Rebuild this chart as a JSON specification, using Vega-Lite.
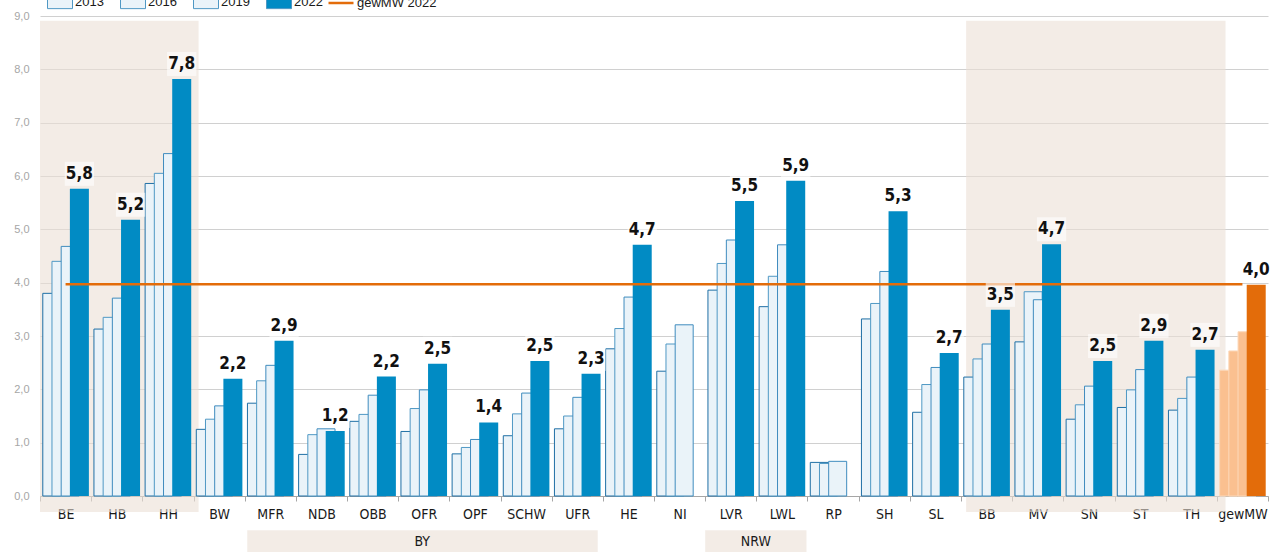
{
  "$schema": "https://vega.github.io/schema/vega-lite/v6.json",
  "width": 1228,
  "height": 480,
  "autosize": {"type": "none"},
  "padding": {"left": 40, "top": 16, "right": 10, "bottom": 56},
  "background": "#ffffff",
  "config": {
    "view": {"stroke": null},
    "font": "Liberation Sans",
    "locale": {"number": {"decimal": ",", "thousands": ".", "grouping": [3], "currency": ["", " €"]}},
    "axisY": {"grid": true, "gridColor": "#d0d0d0", "gridWidth": 1, "domain": false, "ticks": false, "tickSize": 0, "labelColor": "#a6a6a6", "labelFontSize": 11, "labelFont": "Liberation Sans", "labelPadding": 11, "title": null},
    "axisX": {"domainColor": "#a6a6a6", "tickColor": "#a6a6a6", "tickSize": 5, "tickBand": "extent", "labelColor": "#1a1a1a", "labelFontSize": 14, "labelFont": "Liberation Sans Narrow, DejaVu Sans Condensed, sans-serif", "labelPadding": 6, "labelAngle": 0, "zindex": 1, "title": null, "grid": false},
    "legend": {"labelFont": "Liberation Sans", "labelFontSize": 13, "labelColor": "#1a1a1a", "padding": 0, "labelOffset": 2, "columnPadding": 14, "symbolSize": 625}
  },
  "datasets": {
    "bars": [
      {"cat": "BE", "year": "2013", "v": 3.80}, {"cat": "BE", "year": "2016", "v": 4.40}, {"cat": "BE", "year": "2019", "v": 4.68}, {"cat": "BE", "year": "2022", "v": 5.76},
      {"cat": "HB", "year": "2013", "v": 3.13}, {"cat": "HB", "year": "2016", "v": 3.35}, {"cat": "HB", "year": "2019", "v": 3.71}, {"cat": "HB", "year": "2022", "v": 5.18},
      {"cat": "HH", "year": "2013", "v": 5.86}, {"cat": "HH", "year": "2016", "v": 6.05}, {"cat": "HH", "year": "2019", "v": 6.42}, {"cat": "HH", "year": "2022", "v": 7.82},
      {"cat": "BW", "year": "2013", "v": 1.25}, {"cat": "BW", "year": "2016", "v": 1.44}, {"cat": "BW", "year": "2019", "v": 1.69}, {"cat": "BW", "year": "2022", "v": 2.20},
      {"cat": "MFR", "year": "2013", "v": 1.74}, {"cat": "MFR", "year": "2016", "v": 2.16}, {"cat": "MFR", "year": "2019", "v": 2.45}, {"cat": "MFR", "year": "2022", "v": 2.91},
      {"cat": "NDB", "year": "2013", "v": 0.78}, {"cat": "NDB", "year": "2016", "v": 1.15}, {"cat": "NDB", "year": "2019", "v": 1.26}, {"cat": "NDB", "year": "2022", "v": 1.22},
      {"cat": "OBB", "year": "2013", "v": 1.40}, {"cat": "OBB", "year": "2016", "v": 1.53}, {"cat": "OBB", "year": "2019", "v": 1.89}, {"cat": "OBB", "year": "2022", "v": 2.24},
      {"cat": "OFR", "year": "2013", "v": 1.21}, {"cat": "OFR", "year": "2016", "v": 1.64}, {"cat": "OFR", "year": "2019", "v": 1.99}, {"cat": "OFR", "year": "2022", "v": 2.48},
      {"cat": "OPF", "year": "2013", "v": 0.79}, {"cat": "OPF", "year": "2016", "v": 0.91}, {"cat": "OPF", "year": "2019", "v": 1.06}, {"cat": "OPF", "year": "2022", "v": 1.38},
      {"cat": "SCHW", "year": "2013", "v": 1.13}, {"cat": "SCHW", "year": "2016", "v": 1.54}, {"cat": "SCHW", "year": "2019", "v": 1.93}, {"cat": "SCHW", "year": "2022", "v": 2.53},
      {"cat": "UFR", "year": "2013", "v": 1.26}, {"cat": "UFR", "year": "2016", "v": 1.50}, {"cat": "UFR", "year": "2019", "v": 1.85}, {"cat": "UFR", "year": "2022", "v": 2.29},
      {"cat": "HE", "year": "2013", "v": 2.76}, {"cat": "HE", "year": "2016", "v": 3.14}, {"cat": "HE", "year": "2019", "v": 3.73}, {"cat": "HE", "year": "2022", "v": 4.71},
      {"cat": "NI", "year": "2013", "v": 2.34}, {"cat": "NI", "year": "2016", "v": 2.85}, {"cat": "NI", "year": "2019", "v": 3.21}, {"cat": "NI", "year": "2022", "v": null},
      {"cat": "LVR", "year": "2013", "v": 3.86}, {"cat": "LVR", "year": "2016", "v": 4.36}, {"cat": "LVR", "year": "2019", "v": 4.80}, {"cat": "LVR", "year": "2022", "v": 5.53},
      {"cat": "LWL", "year": "2013", "v": 3.55}, {"cat": "LWL", "year": "2016", "v": 4.12}, {"cat": "LWL", "year": "2019", "v": 4.71}, {"cat": "LWL", "year": "2022", "v": 5.91},
      {"cat": "RP", "year": "2013", "v": 0.63}, {"cat": "RP", "year": "2016", "v": 0.61}, {"cat": "RP", "year": "2019", "v": 0.65}, {"cat": "RP", "year": "2022", "v": null},
      {"cat": "SH", "year": "2013", "v": 3.32}, {"cat": "SH", "year": "2016", "v": 3.61}, {"cat": "SH", "year": "2019", "v": 4.21}, {"cat": "SH", "year": "2022", "v": 5.34},
      {"cat": "SL", "year": "2013", "v": 1.57}, {"cat": "SL", "year": "2016", "v": 2.09}, {"cat": "SL", "year": "2019", "v": 2.41}, {"cat": "SL", "year": "2022", "v": 2.68},
      {"cat": "BB", "year": "2013", "v": 2.23}, {"cat": "BB", "year": "2016", "v": 2.57}, {"cat": "BB", "year": "2019", "v": 2.85}, {"cat": "BB", "year": "2022", "v": 3.49},
      {"cat": "MV", "year": "2013", "v": 2.89}, {"cat": "MV", "year": "2016", "v": 3.83}, {"cat": "MV", "year": "2019", "v": 3.68}, {"cat": "MV", "year": "2022", "v": 4.72},
      {"cat": "SN", "year": "2013", "v": 1.44}, {"cat": "SN", "year": "2016", "v": 1.71}, {"cat": "SN", "year": "2019", "v": 2.06}, {"cat": "SN", "year": "2022", "v": 2.53},
      {"cat": "ST", "year": "2013", "v": 1.66}, {"cat": "ST", "year": "2016", "v": 1.99}, {"cat": "ST", "year": "2019", "v": 2.37}, {"cat": "ST", "year": "2022", "v": 2.91},
      {"cat": "TH", "year": "2013", "v": 1.61}, {"cat": "TH", "year": "2016", "v": 1.83}, {"cat": "TH", "year": "2019", "v": 2.23}, {"cat": "TH", "year": "2022", "v": 2.74},
      {"cat": "gewMW", "year": "2013", "v": 2.36}, {"cat": "gewMW", "year": "2016", "v": 2.72}, {"cat": "gewMW", "year": "2019", "v": 3.08}, {"cat": "gewMW", "year": "2022", "v": 3.96}
    ],
    "shade": [{"from": 0, "to": 3.1}, {"from": 18.1, "to": 23.17}],
    "groups": [{"label": "BY", "from": 4.05, "to": 10.9, "mid": 7.47}, {"label": "NRW", "from": 13.0, "to": 14.98, "mid": 13.99}],
    "mw": [{"series": "gewMW 2022", "from": "BE", "to": "gewMW", "v": 3.97}]
  },
  "resolve": {"scale": {"x": "independent"}},
  "layer": [
    {
      "layer": [
        {
          "data": {"name": "shade"},
          "mark": {"type": "rect", "fill": "#ebdfd5", "opacity": 0.6},
          "encoding": {
            "x": {"field": "from", "type": "quantitative", "scale": {"domain": [0, 24], "nice": false, "zero": false}, "axis": null},
            "x2": {"field": "to"},
            "y": {"datum": 8.91, "type": "quantitative", "title": null, "scale": {"domain": [0, 9], "nice": false}, "axis": {"values": [0,1,2,3,4,5,6,7,8,9], "format": ".1f"}},
            "y2": {"datum": -0.3}
          }
        },
        {
          "data": {"name": "groups"},
          "mark": {"type": "rect", "fill": "#ebdfd5", "opacity": 0.6},
          "encoding": {
            "x": {"field": "from", "type": "quantitative", "scale": {"domain": [0, 24], "nice": false, "zero": false}, "axis": null},
            "x2": {"field": "to"},
            "y": {"datum": -0.64, "type": "quantitative", "title": null, "scale": {"domain": [0, 9], "nice": false}, "axis": {"values": [0,1,2,3,4,5,6,7,8,9], "format": ".1f"}},
            "y2": {"datum": -1.2}
          }
        },
        {
          "data": {"name": "groups"},
          "mark": {"type": "text", "font": "Liberation Sans Narrow, DejaVu Sans Condensed, sans-serif", "fontSize": 14, "color": "#1a1a1a", "baseline": "middle"},
          "encoding": {
            "x": {"field": "mid", "type": "quantitative", "scale": {"domain": [0, 24], "nice": false, "zero": false}, "axis": null},
            "y": {"datum": -0.86, "type": "quantitative", "title": null, "scale": {"domain": [0, 9], "nice": false}, "axis": {"values": [0,1,2,3,4,5,6,7,8,9], "format": ".1f"}},
            "text": {"field": "label"}
          }
        }
      ]
    },
    {
      "data": {"name": "bars"},
      "encoding": {
        "x": {"field": "cat", "type": "nominal", "sort": null, "title": null,
          "scale": {"domain": ["BE","HB","HH","BW","MFR","NDB","OBB","OFR","OPF","SCHW","UFR","HE","NI","LVR","LWL","RP","SH","SL","BB","MV","SN","ST","TH","gewMW"], "paddingInner": 0, "paddingOuter": 0}},
        "y": {"field": "v", "type": "quantitative", "title": null, "scale": {"domain": [0, 9], "nice": false},
          "axis": {"values": [0,1,2,3,4,5,6,7,8,9], "format": ".1f"}}
      },
      "layer": [
        {
          "transform": [{"filter": "datum.year === '2013'"}],
          "mark": {"type": "bar", "width": 18, "xOffset": -13.8, "strokeWidth": 1},
          "encoding": {
            "fill": {"condition": {"test": "datum.cat === 'gewMW'", "value": "#fac090"}, "field": "year", "type": "nominal",
              "scale": {"domain": ["2013","2016","2019","2022"], "range": ["#eaf3f9","#eaf3f9","#eaf3f9","#018bc4"]},
              "legend": {"orient": "none", "legendX": 7, "legendY": -27, "direction": "horizontal", "title": null, "symbolType": "M-1,-0.5L1,-0.5L1,0.5L-1,0.5Z", "symbolStrokeColor": "#4a92c0", "symbolStrokeWidth": 1}},
            "stroke": {"condition": {"test": "datum.cat === 'gewMW'", "value": "#fcd9bb"}, "value": "#1f6fa5"}
          }
        },
        {
          "transform": [{"filter": "datum.year === '2016'"}],
          "mark": {"type": "bar", "width": 18, "xOffset": -4.6, "strokeWidth": 1},
          "encoding": {
            "fill": {"condition": {"test": "datum.cat === 'gewMW'", "value": "#fac090"}, "field": "year", "type": "nominal",
              "scale": {"domain": ["2013","2016","2019","2022"], "range": ["#eaf3f9","#eaf3f9","#eaf3f9","#018bc4"]}},
            "stroke": {"condition": {"test": "datum.cat === 'gewMW'", "value": "#fcd9bb"}, "value": "#4f98c4"}
          }
        },
        {
          "transform": [{"filter": "datum.year === '2019'"}],
          "mark": {"type": "bar", "width": 18, "xOffset": 4.6, "strokeWidth": 1},
          "encoding": {
            "fill": {"condition": {"test": "datum.cat === 'gewMW'", "value": "#fac090"}, "field": "year", "type": "nominal",
              "scale": {"domain": ["2013","2016","2019","2022"], "range": ["#eaf3f9","#eaf3f9","#eaf3f9","#018bc4"]}},
            "stroke": {"condition": {"test": "datum.cat === 'gewMW'", "value": "#fcd9bb"}, "value": "#3f8cbe"}
          }
        },
        {
          "transform": [{"filter": "datum.year === '2022'"}],
          "mark": {"type": "bar", "width": 19, "xOffset": 13.8},
          "encoding": {
            "fill": {"condition": {"test": "datum.cat === 'gewMW'", "value": "#e36c0a"}, "field": "year", "type": "nominal",
              "scale": {"domain": ["2013","2016","2019","2022"], "range": ["#eaf3f9","#eaf3f9","#eaf3f9","#018bc4"]}}
          }
        },
        {
          "data": {"name": "mw"},
          "mark": {"type": "rule", "strokeWidth": 2.5},
          "encoding": {
            "x": {"field": "from", "type": "nominal", "title": null},
            "x2": {"field": "to"},
            "y": {"field": "v", "type": "quantitative"},
            "stroke": {"field": "series", "type": "nominal", "scale": {"range": ["#e36c0a"]},
              "legend": {"orient": "none", "legendX": 287, "legendY": -27, "direction": "horizontal", "title": null, "symbolStrokeWidth": 2.5, "symbolType": "stroke"}}
          }
        },
        {
          "transform": [{"filter": "datum.year === '2022' && isValid(datum.v)"}],
          "mark": {"type": "point", "shape": "M-1.22,-1L1.22,-1L1.22,1L-1.22,1Z", "size": 576, "filled": true, "color": "#ffffff", "opacity": 0.6, "strokeWidth": 0, "xOffset": 13.8, "yOffset": -15}
        },
        {
          "transform": [{"filter": "datum.year === '2022' && isValid(datum.v)"}],
          "mark": {"type": "text", "font": "Liberation Sans Narrow, DejaVu Sans Condensed, sans-serif", "fontWeight": "bold", "fontSize": 17, "color": "#111111", "baseline": "middle", "xOffset": 13.8, "yOffset": -15},
          "encoding": {"text": {"field": "v", "type": "quantitative", "format": ".1f"}}
        },
        {
          "transform": [{"filter": "datum.year === '2022' && !isValid(datum.v)"}],
          "mark": {"type": "point", "shape": "M-1.15,-1L1.15,-1L1.15,1L-1.15,1Z", "size": 784, "filled": true, "color": "#ffffff", "opacity": 0.7, "strokeWidth": 0, "xOffset": 13.8},
          "encoding": {"y": {"datum": 0.29, "type": "quantitative"}}
        },
        {
          "transform": [{"filter": "datum.year === '2022' && !isValid(datum.v)"}],
          "mark": {"type": "text", "text": "n.v.", "font": "Liberation Sans Narrow, DejaVu Sans Condensed, sans-serif", "fontWeight": "bold", "fontSize": 17, "color": "#111111", "baseline": "middle", "xOffset": 13.8},
          "encoding": {"y": {"datum": 0.29, "type": "quantitative"}}
        }
      ]
    }
  ]
}
